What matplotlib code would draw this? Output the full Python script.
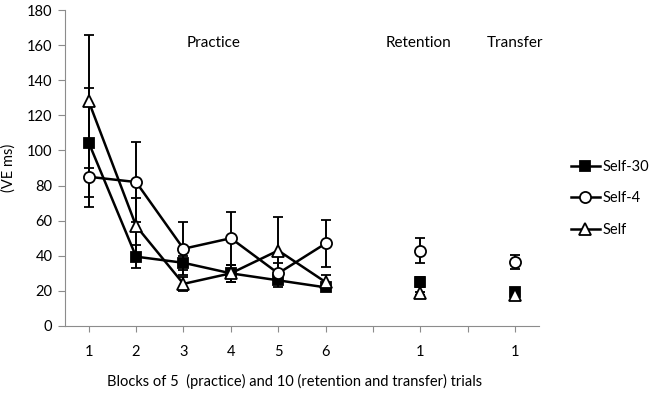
import matplotlib
matplotlib.use("Agg")
import matplotlib.pyplot as plt
from matplotlib.lines import Line2D

plt.rcParams["font.family"] = ["Lato", "DejaVu Sans"]
plt.rcParams["font.size"] = 10.5

# practice blocks 1-6, then retention (pos 8) and transfer (pos 10)
practice_x = [1, 2, 3, 4, 5, 6]
retention_x = 8
transfer_x = 10
tick_labels = ["1", "2", "3", "4", "5", "6", "", "1", "", "1"]

self30 = [104.5, 39.5, 36, 30, 26, 22]
self30_err = [31, 6.5, 4, 5, 4, 2]
self4 = [85, 82, 44, 50, 30, 47]
self4_err = [17, 23, 15, 15, 6, 13.5]
self_ = [128, 57, 24, 30, 43, 25]
self_err = [38, 16, 4, 5, 19, 4]

ret_vals = {"Self-30": 25, "Self-4": 43, "Self": 18.6}
ret_errs = {"Self-30": 3, "Self-4": 7, "Self": 1}
tra_vals = {"Self-30": 19.5, "Self-4": 36.5, "Self": 17.5}
tra_errs = {"Self-30": 1.5, "Self-4": 4, "Self": 1}

styles = {
    "Self-30": dict(marker="s", mfc="black", ms=6.5),
    "Self-4": dict(marker="o", mfc="white", ms=8),
    "Self": dict(marker="^", mfc="white", ms=8.5),
}
series = [("Self-30", self30, self30_err), ("Self-4", self4, self4_err), ("Self", self_, self_err)]

fig = plt.figure(figsize=(6.5, 3.94), dpi=100)
ax = fig.add_axes([0.1, 0.1726, 0.729, 0.802])

axis_col = "#8c8c8c"
for name, vals, errs in series:
    st = styles[name]
    ax.errorbar(practice_x, vals, yerr=errs, color="black", lw=1.8, elinewidth=1.4,
                capsize=3.5, capthick=1.4, mec="black", mew=1.3, **st)
    xs = [retention_x, transfer_x]
    ys = [ret_vals[name], tra_vals[name]]
    es = [ret_errs[name], tra_errs[name]]
    ax.errorbar(xs, ys, yerr=es, color="black", ls="none", elinewidth=1.4,
                capsize=3.5, capthick=1.4, mec="black", mew=1.3, **st)

ax.set_xlim(0.5, 10.5)
ax.set_ylim(0, 180)
ax.set_yticks(range(0, 181, 20))
ax.set_xticks(range(1, 11))
ax.set_xticklabels(tick_labels)
for s in ["top", "right"]:
    ax.spines[s].set_visible(False)
for s in ["left", "bottom"]:
    ax.spines[s].set_color(axis_col)
ax.tick_params(axis="x", length=4, color=axis_col, pad=10)
ax.tick_params(axis="y", length=5, color=axis_col, direction="out", pad=4)

ax.text(3.64, 161, "Practice", ha="center", va="center", fontsize=11)
ax.text(7.96, 161, "Retention", ha="center", va="center", fontsize=11)
ax.text(10.0, 161, "Transfer", ha="center", va="center", fontsize=11)

ax.set_ylabel("(VE ms)", labelpad=8)
ax.set_xlabel("Blocks of 5  (practice) and 10 (retention and transfer) trials")
ax.xaxis.set_label_coords(0.485, -0.152)

handles = [Line2D([], [], color="black", lw=1.8, mec="black", mew=1.3, **styles[n]) for n, _, _ in series]
fig.legend(handles, [n for n, _, _ in series], loc="center left", bbox_to_anchor=(0.858, 0.497),
           frameon=False, handlelength=2.0, handletextpad=0.2, labelspacing=1.2)

fig.savefig("out.png", dpi=100)
